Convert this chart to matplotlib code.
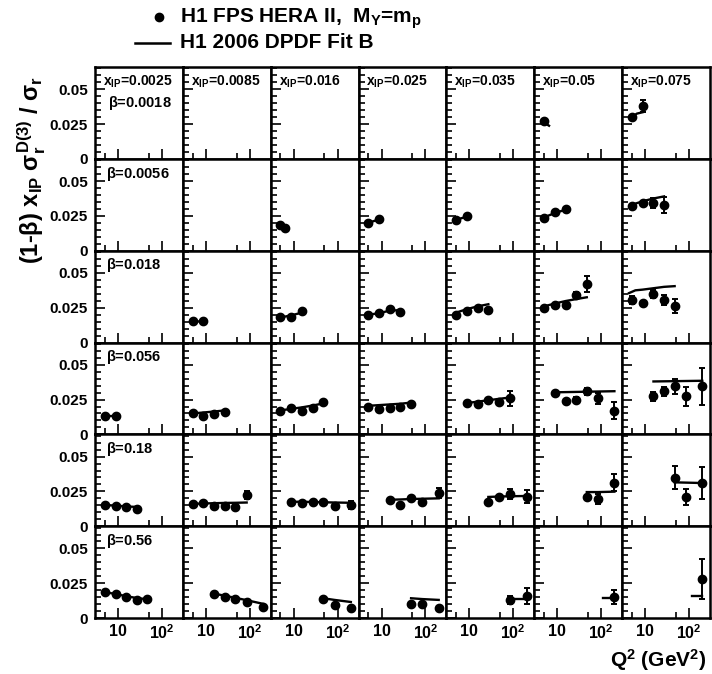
import matplotlib
matplotlib.use("Agg")
import matplotlib.pyplot as plt
from matplotlib.lines import Line2D
from matplotlib.ticker import FixedLocator, MultipleLocator, NullFormatter

plt.rcParams['font.family'] = ['Liberation Sans', 'DejaVu Sans']
plt.rcParams['font.weight'] = 'bold'
plt.rcParams['mathtext.fontset'] = 'custom'
plt.rcParams['mathtext.rm'] = 'Liberation Sans:bold'
plt.rcParams['mathtext.it'] = 'Liberation Sans:bold'
plt.rcParams['mathtext.bf'] = 'Liberation Sans:bold'
plt.rcParams['mathtext.sf'] = 'Liberation Sans:bold'

# ---------------- data ----------------
beta_labels = ['0.0018', '0.0056', '0.018', '0.056', '0.18', '0.56']
xpom_labels = ['0.0025', '0.0085', '0.016', '0.025', '0.035', '0.05', '0.075']
xtick_labels = ['10', r'$10^{2}$']
ytick_labels = ['0', '0.025', '0.05']

# beta = 0.0018
q2_b1 = [[], [], [], [], [], [5.0], [5.0, 8.8]]
val_b1 = [[], [], [], [], [], [0.027], [0.030, 0.038]]
err_b1 = [[], [], [], [], [], [0.0012], [0.0012, 0.0046]]
fitq_b1 = [[], [], [], [], [], [5.0, 6.5], [5.0, 6.5, 8.8]]
fit_b1 = [[], [], [], [], [], [0.026, 0.0238], [0.030, 0.0325, 0.0335]]

# beta = 0.0056
q2_b2 = [[], [], [5.0, 6.5], [5.0, 8.8], [5.0, 8.8], [5.0, 8.8, 15.5], [5.0, 8.8, 15.5, 27]]
val_b2 = [[], [], [0.0184, 0.0163], [0.0199, 0.0228], [0.022, 0.0249],
          [0.0235, 0.0275, 0.030], [0.0321, 0.0343, 0.0343, 0.0328]]
err_b2 = [[], [], [0, 0], [0, 0], [0, 0], [0, 0, 0.001], [0.0012, 0.0012, 0.0036, 0.006]]
fitq_b2 = [[], [], [5.0, 6.5], [5.0, 8.8], [5.0, 8.8], [5.0, 8.8, 15.5], [5.0, 8.8, 15.5, 27]]
fit_b2 = [[], [], [0.0182, 0.0165], [0.020, 0.0225], [0.0222, 0.0245],
          [0.024, 0.027, 0.0295], [0.033, 0.0355, 0.0375, 0.039]]

# beta = 0.018
q2_b3 = [[], [5.0, 8.8], [5.0, 8.8, 15.5], [5.0, 8.8, 15.5, 27], [5.0, 8.8, 15.5, 27],
         [5.0, 8.8, 15.5, 27, 47], [5.0, 8.8, 15.5, 27, 47]]
val_b3 = [[], [0.0153, 0.0153], [0.0181, 0.0181, 0.0225], [0.0196, 0.021, 0.0239, 0.0217],
          [0.0196, 0.0225, 0.0246, 0.0232], [0.0246, 0.0268, 0.0268, 0.034, 0.042],
          [0.0304, 0.0283, 0.0348, 0.0304, 0.0261]]
err_b3 = [[], [0, 0], [0, 0, 0], [0, 0, 0, 0], [0, 0, 0, 0.001],
          [0.001, 0.001, 0.0012, 0.002, 0.0058], [0.0027, 0.0015, 0.003, 0.0034, 0.0049]]
fitq_b3 = [[], [5.0, 8.8], [5.0, 8.8, 15.5], [5.0, 8.8, 15.5, 27], [5.0, 8.8, 15.5, 27],
           [5.0, 8.8, 15.5, 27, 47], [4.3, 6.0, 8.8, 15.5, 27, 47]]
fit_b3 = [[], [0.0153, 0.015], [0.018, 0.0195, 0.0215], [0.020, 0.021, 0.023, 0.0232],
          [0.0215, 0.024, 0.026, 0.0275], [0.026, 0.028, 0.0298, 0.0312, 0.0325],
          [0.0355, 0.0375, 0.038, 0.039, 0.040, 0.0405]]

# beta = 0.056
q2_b4 = [[5.0, 8.8], [5.0, 8.8, 15.5, 27], [5.0, 8.8, 15.5, 27, 47], [5.0, 8.8, 15.5, 27, 47],
         [8.8, 15.5, 27, 47, 85], [8.8, 15.5, 27, 47, 85, 200], [15.5, 27, 47, 85, 200]]
val_b4 = [[0.0135, 0.0135], [0.015, 0.0135, 0.0143, 0.0164],
          [0.0171, 0.0186, 0.0171, 0.0186, 0.0229], [0.0193, 0.0179, 0.0186, 0.0193, 0.0215],
          [0.0222, 0.0215, 0.025, 0.0229, 0.0258], [0.0294, 0.0236, 0.025, 0.0308, 0.0258, 0.0171],
          [0.0272, 0.0308, 0.0344, 0.0272, 0.0344]]
err_b4 = [[0, 0], [0, 0, 0, 0], [0, 0, 0, 0, 0], [0, 0, 0, 0, 0],
          [0.001, 0.001, 0.0012, 0.0015, 0.0055], [0.001, 0.0012, 0.0015, 0.0025, 0.004, 0.0058],
          [0.003, 0.0035, 0.0055, 0.0068, 0.013]]
fitq_b4 = [[5.0, 8.8], [5.0, 8.8, 15.5, 27], [5.0, 8.8, 15.5, 27, 47], [5.0, 8.8, 15.5, 27, 47],
           [8.8, 15.5, 27, 47, 85], [8.8, 200], [15.5, 200]]
fit_b4 = [[0.0135, 0.0135], [0.015, 0.0157, 0.0164, 0.0172],
          [0.0172, 0.0183, 0.0194, 0.0207, 0.0222], [0.0205, 0.021, 0.0215, 0.022, 0.0228],
          [0.0225, 0.0235, 0.0245, 0.0255, 0.0265], [0.0302, 0.031], [0.038, 0.0385]]

# beta = 0.18
q2_b5 = [[5.0, 8.8, 15.5, 27], [5.0, 8.8, 15.5, 27, 47, 85], [8.8, 15.5, 27, 47, 85, 200],
         [15.5, 27, 47, 85, 200], [27, 47, 85, 200], [47, 85, 200], [47, 85, 200]]
val_b5 = [[0.0154, 0.0147, 0.014, 0.0125], [0.0161, 0.0168, 0.0147, 0.0147, 0.014, 0.0226],
          [0.0176, 0.0168, 0.0176, 0.0176, 0.0147, 0.0154], [0.019, 0.0154, 0.0204, 0.0176, 0.024],
          [0.0176, 0.0212, 0.0233, 0.0212], [0.0212, 0.0197, 0.0312], [0.0349, 0.0212, 0.0312]]
err_b5 = [[0, 0, 0, 0], [0, 0, 0, 0, 0, 0.003], [0, 0, 0, 0, 0.0012, 0.003],
          [0, 0, 0.0015, 0.002, 0.0037], [0.001, 0.0015, 0.0037, 0.0049],
          [0.0015, 0.0037, 0.006], [0.008, 0.0058, 0.0114]]
fitq_b5 = [[5.0, 8.8, 15.5, 27], [5.0, 8.8, 15.5, 27, 47, 85], [8.8, 15.5, 27, 47, 85, 200],
           [15.5, 27, 47, 85, 200], [27, 47, 85, 200], [47, 85, 200], [47, 200]]
fit_b5 = [[0.0152, 0.0148, 0.0142, 0.0138], [0.016, 0.0163, 0.0165, 0.0167, 0.0168, 0.017],
          [0.0176, 0.0175, 0.0174, 0.0172, 0.017, 0.0168], [0.019, 0.0192, 0.0195, 0.0197, 0.020],
          [0.021, 0.0213, 0.0215, 0.0217], [0.0245, 0.0245, 0.0248], [0.0315, 0.031]]

# beta = 0.56
q2_b6 = [[5.0, 8.8, 15.5, 27, 47], [15.5, 27, 47, 85, 200], [47, 85, 200], [47, 85, 200],
         [85, 200], [200], [200]]
val_b6 = [[0.0187, 0.0173, 0.0151, 0.013, 0.0137], [0.0173, 0.0151, 0.0137, 0.0115, 0.0079],
          [0.0137, 0.0094, 0.0072], [0.0101, 0.0101, 0.0072], [0.013, 0.0158], [0.0151], [0.028]]
err_b6 = [[0, 0, 0, 0, 0], [0, 0, 0, 0, 0], [0, 0, 0], [0, 0, 0], [0.003, 0.006], [0.0049], [0.0143]]
fitq_b6 = [[5.0, 8.8, 15.5, 27, 47], [15.5, 27, 47, 85, 200], [47, 85, 200], [47, 85, 200],
           [85, 200], [110, 200], [117, 200]]
fit_b6 = [[0.0187, 0.0172, 0.0157, 0.0143, 0.0135], [0.0175, 0.016, 0.0145, 0.0128, 0.0102],
          [0.0142, 0.013, 0.0115], [0.0142, 0.0136, 0.013], [0.0135, 0.0135], [0.0144, 0.0144],
          [0.0158, 0.0158]]

rows = [
    (q2_b1, val_b1, err_b1, fitq_b1, fit_b1),
    (q2_b2, val_b2, err_b2, fitq_b2, fit_b2),
    (q2_b3, val_b3, err_b3, fitq_b3, fit_b3),
    (q2_b4, val_b4, err_b4, fitq_b4, fit_b4),
    (q2_b5, val_b5, err_b5, fitq_b5, fit_b5),
    (q2_b6, val_b6, err_b6, fitq_b6, fit_b6),
]

# ---------------- figure ----------------
W, H = 712, 674
fig = plt.figure(figsize=(W / 100, H / 100), dpi=100)
axes = fig.subplots(6, 7, sharex=True, sharey=True)
fig.subplots_adjust(left=95 / W, right=710 / W, top=1 - 67 / H, bottom=1 - 618 / H,
                    wspace=0, hspace=0)

for r, (q2s, vals, errs, fqs, fvs) in enumerate(rows):
    for c in range(7):
        ax = axes[r, c]
        ax.set_xscale('log')
        if fqs[c]:
            ax.plot(fqs[c], fvs[c], '-', color='black', lw=1.7, zorder=2)
        if q2s[c]:
            ax.errorbar(q2s[c], vals[c], yerr=errs[c], fmt='o', color='black',
                        ms=6, capsize=2.5, elinewidth=1.4, capthick=1.4, zorder=3)
        for s in ax.spines.values():
            s.set_linewidth(1.8)
        if r == 0:
            ax.text(0.09, 0.795, r'x$_{\rm IP}$=' + xpom_labels[c], transform=ax.transAxes,
                    fontsize=10, fontweight='bold', ha='left', va='baseline')
        if c == 0:
            ypos = 0.565 if r == 0 else 0.795
            xpos = 0.148 if r == 0 else 0.13
            ax.text(xpos, ypos, r'$\beta$=' + beta_labels[r], transform=ax.transAxes,
                    fontsize=10.5, fontweight='bold', ha='left', va='baseline')

ax0 = axes[0, 0]
ax0.set_xlim(3, 300)
ax0.set_ylim(0, 0.066)
ax0.set_xticks([10, 100], labels=xtick_labels)
ax0.xaxis.set_minor_locator(FixedLocator([5, 50]))
ax0.xaxis.set_minor_formatter(NullFormatter())
ax0.set_yticks([0, 0.025, 0.05], labels=ytick_labels)
ax0.yaxis.set_minor_locator(MultipleLocator(0.005))

for ax in axes.flat:
    ax.tick_params(which='both', direction='in', top=False, right=False, width=1.2)
    ax.tick_params(which='major', length=7)
    ax.tick_params(which='minor', length=4)
    ax.tick_params(axis='x', pad=4, labelsize=11.5)
    ax.tick_params(axis='y', pad=5, labelsize=11)
    for lab in ax.get_xticklabels() + ax.get_yticklabels():
        lab.set_fontweight('bold')

# legend
fig.add_artist(Line2D([159 / W], [1 - 17 / H], marker='o', ms=6, color='black',
                      transform=fig.transFigure))
fig.text(180 / W, 1 - 23 / H, r'H1 FPS HERA II,  M$_{\rm Y}$=m$_{\rm p}$', fontsize=15,
         fontweight='bold', ha='left', va='baseline')
fig.add_artist(Line2D([135 / W, 170 / W], [1 - 43 / H, 1 - 43 / H], color='black', lw=1.8,
                      transform=fig.transFigure))
fig.text(180 / W, 1 - 48 / H, 'H1 2006 DPDF Fit B', fontsize=15, fontweight='bold',
         ha='left', va='baseline')

# axis titles
fig.text(32 / W, 1 - 170 / H,
         r'(1-$\beta$) x$_{\rm IP}$ $\sigma_{\rm r}^{\rm D(3)}$ / $\sigma_{\rm r}$',
         rotation=90, fontsize=17, fontweight='bold', ha='center', va='center')
fig.text(706 / W, 1 - 667 / H, r'Q$^{\rm 2}$ (GeV$^{\rm 2}$)', fontsize=15,
         fontweight='bold', ha='right', va='baseline')

fig.savefig('out.png', dpi=100)
